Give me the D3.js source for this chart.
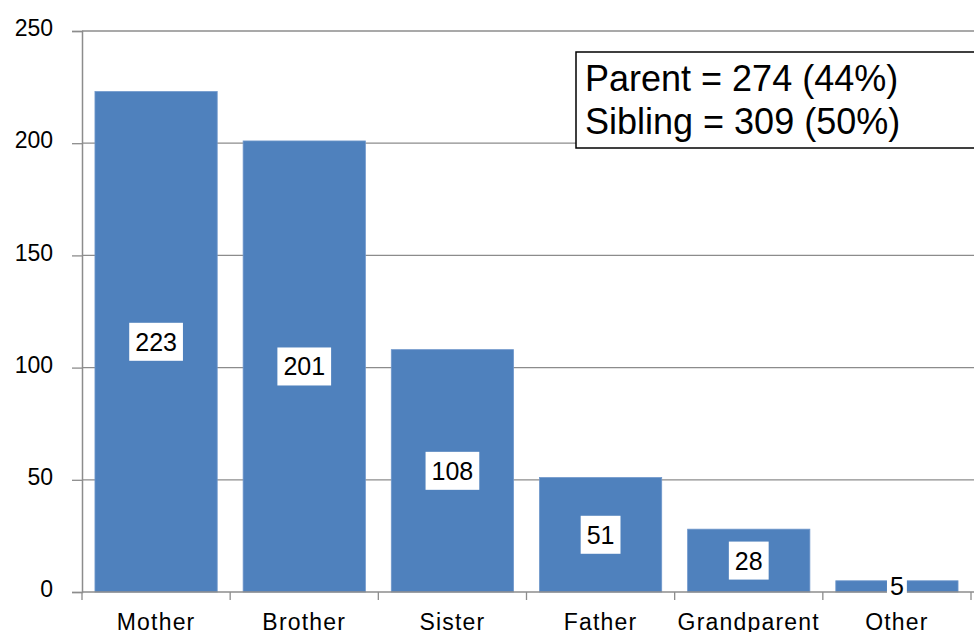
<!DOCTYPE html>
<html>
<head>
<meta charset="utf-8">
<script src="https://cdn.jsdelivr.net/npm/d3@7"></script>
<style>
  body { margin: 0; background: #fff; }
</style>
</head>
<body>
<div id="chart"></div>
<script>
// relationship categories and counts
var categories = ["Mother", "Brother", "Sister", "Father", "Grandparent", "Other"];
var counts = [223, 201, 108, 51, 28, 5];
var yTicks = [0, 50, 100, 150, 200, 250];
var summaryLines = ["Parent = 274 (44%)", "Sibling = 309 (50%)"];

var W = 974, H = 632;
var margin = { top: 31, right: 3, bottom: 40, left: 82 };
var height = H - margin.top - margin.bottom;

var svg = d3.select("#chart").append("svg")
    .attr("width", W)
    .attr("height", H)
    .append("g")
    .attr("transform", "translate(" + margin.left + "," + margin.top + ")");

var x = d3.scaleBand()
    .domain(categories)
    .range([0, 889])
    .paddingInner(0.175)
    .paddingOuter(0.0875);

var y = d3.scaleLinear()
    .domain([0, 250])
    .range([height, 0]);

// gridlines
svg.selectAll(".grid")
    .data(yTicks.slice(1))
    .enter()
    .append("line")
    .attr("x1", 0)
    .attr("x2", W - margin.left)
    .attr("y1", function (d) { return y(d); })
    .attr("y2", function (d) { return y(d); })
    .attr("stroke", "#8c8c8c")
    .attr("stroke-width", 1.3);

// bars
svg.selectAll(".bar")
    .data(counts)
    .enter()
    .append("rect")
    .attr("x", function (d, i) { return x(categories[i]); })
    .attr("y", function (d) { return y(d); })
    .attr("width", x.bandwidth())
    .attr("height", function (d) { return height - y(d); })
    .attr("fill", "#4f81bd")
    .attr("stroke", "#6f97cb")
    .attr("stroke-width", 0.8);

// y axis
var yaxis = svg.append("g")
    .call(d3.axisLeft(y).tickValues(yTicks).tickSize(10).tickPadding(19));
yaxis.select("path").attr("stroke", "#8c8c8c").attr("stroke-width", 1.5);
yaxis.selectAll("line").attr("stroke", "#8c8c8c").attr("stroke-width", 1.3);
yaxis.selectAll("text")
    .attr("font-family", "Liberation Sans, Arial, sans-serif")
    .attr("font-size", "23px")
    .attr("dy", "0.2em")
    .attr("fill", "#000");

// x axis
var xaxis = svg.append("g")
    .attr("transform", "translate(0," + height + ")")
    .call(d3.axisBottom(x).tickSize(0).tickPadding(22));
xaxis.select("path").remove();
xaxis.selectAll("text")
    .attr("font-family", "Liberation Sans, Arial, sans-serif")
    .attr("font-size", "23px")
    .attr("letter-spacing", "1.2px")
    .attr("fill", "#000");

// category boundary ticks
var step = x.step();
var bounds = d3.range(categories.length + 1).map(function (i) {
    return x(categories[0]) - x.paddingInner() * step / 2 + i * step;
});
svg.selectAll(".btick")
    .data(bounds)
    .enter()
    .append("line")
    .attr("x1", function (d) { return d; })
    .attr("x2", function (d) { return d; })
    .attr("y1", height)
    .attr("y2", height + 8)
    .attr("stroke", "#8c8c8c")
    .attr("stroke-width", 1.3);
svg.append("line")
    .attr("x1", 0).attr("x2", W - margin.left)
    .attr("y1", height).attr("y2", height)
    .attr("stroke", "#8c8c8c")
    .attr("stroke-width", 1.5);

// value labels with white boxes
var labels = svg.selectAll(".lbl")
    .data(counts)
    .enter()
    .append("g")
    .attr("transform", function (d, i) {
        return "translate(" + (x(categories[i]) + x.bandwidth() / 2) + "," + ((y(d) + height) / 2) + ")";
    });
labels.append("text")
    .attr("text-anchor", "middle")
    .attr("dy", "0.36em")
    .attr("font-family", "Liberation Sans, Arial, sans-serif")
    .attr("font-size", "25px")
    .attr("fill", "#000")
    .text(function (d) { return d; });
labels.each(function () {
    var g = d3.select(this);
    var bb = g.select("text").node().getBBox();
    var padX = 6, padY = 5;
    if (+g.datum() < 10) { padX = 3; padY = -2; }
    g.insert("rect", "text")
        .attr("x", bb.x - padX)
        .attr("y", bb.y - padY)
        .attr("width", bb.width + padX * 2)
        .attr("height", bb.height + padY * 2)
        .attr("fill", "#fff");
});

// summary box
var box = svg.append("g")
    .attr("transform", "translate(" + (576 - margin.left) + "," + (52 - margin.top) + ")");
box.append("rect")
    .attr("x", 0)
    .attr("y", 0)
    .attr("width", 420)
    .attr("height", 96)
    .attr("fill", "#fff")
    .attr("stroke", "#000")
    .attr("stroke-width", 1.5);
box.selectAll("text")
    .data(summaryLines)
    .enter()
    .append("text")
    .attr("x", 9)
    .attr("y", function (d, i) { return 39 + i * 43; })
    .attr("font-family", "Liberation Sans, Arial, sans-serif")
    .attr("font-size", "36px")
    .attr("fill", "#000")
    .text(function (d) { return d; });
</script>
</body>
</html>
